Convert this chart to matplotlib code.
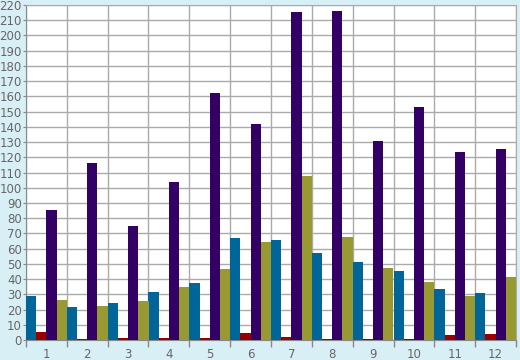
import numpy as np
import matplotlib
matplotlib.use("Agg")
import matplotlib.pyplot as plt

labels = [str(i) for i in range(1, 13)]
blue = [29, 21.7, 24.3, 31.5, 37.4, 67, 66, 57, 51.2, 45.3, 33.5, 30.9]
red = [5, 0.5, 1, 1, 1.3, 4.6, 2, 0.5, 0.7, 0.5, 3.3, 3.9]
purple = [85.4, 116, 74.9, 103.7, 162.2, 141.8, 215.4, 216, 130.7, 153, 123.4, 125.4]
olive = [26.2, 22.3, 25.6, 34.8, 46.6, 64.3, 108, 67.5, 47.3, 38.1, 28.9, 41.4]

series = [blue, red, purple, olive]
colors = ['#006699', '#990000', '#330066', '#999933']

fig = plt.figure(figsize=(5.2, 3.6), dpi=100, facecolor='#d9eff6')
ax = fig.add_axes([26 / 520, 20 / 360, 490 / 520, 335 / 360])
ax.set_facecolor('white')

x = np.arange(len(labels))
w = 0.25
for i, (vals, c) in enumerate(zip(series, colors)):
    ax.bar(x + (i - 1.5) * w, vals, width=w, color=c, zorder=3)

ax.set_xlim(-0.5, len(labels) - 0.5)
ax.set_ylim(0, 220)
ax.set_yticks(range(0, 221, 10))
ax.set_xticks(x)
ax.set_xticklabels(labels)
ax.set_xticks(np.arange(-0.5, len(labels)), minor=True)

ax.grid(True, which='minor', axis='x', color='#aaaaaa', linewidth=1, zorder=0)
ax.grid(True, which='major', axis='y', color='#aaaaaa', linewidth=1, zorder=0)
ax.tick_params(axis='x', which='major', length=0, pad=6, labelsize=8.5, labelcolor='#666666')
ax.tick_params(axis='x', which='minor', length=5, color='#888888', width=1)
ax.tick_params(axis='y', length=2, color='#888888', pad=1, labelsize=8.5, labelcolor='#666666')

for s in ax.spines.values():
    s.set_color('#aaaaaa')
ax.spines['left'].set_color('#888888')
ax.spines['bottom'].set_color('#888888')

fig.savefig('out.png', dpi=100, facecolor=fig.get_facecolor())
